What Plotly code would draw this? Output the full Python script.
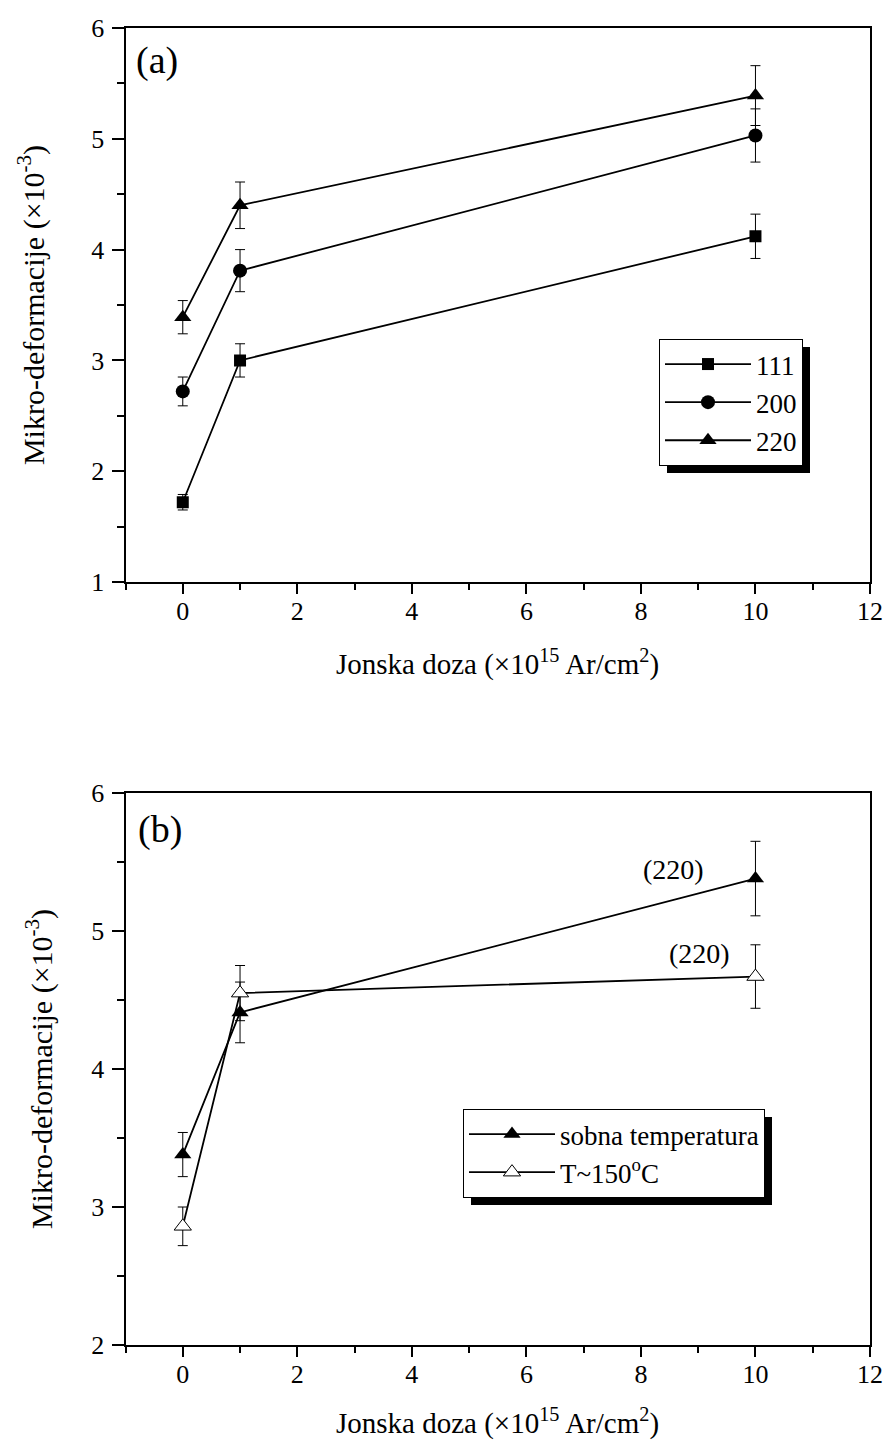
import plotly.graph_objects as go

# Ion dose (x10^15 Ar/cm^2)
dose = [0, 1, 10]

# Panel (a): micro-strain (x10^-3) per reflection, room temperature
strain_111 = [1.72, 3.00, 4.12]
err_111 = [0.07, 0.15, 0.20]
strain_200 = [2.72, 3.81, 5.03]
err_200 = [0.13, 0.19, 0.24]
strain_220 = [3.39, 4.40, 5.39]
err_220 = [0.15, 0.21, 0.27]

# Panel (b): (220) reflection, room temperature vs. T~150 C
strain_rt = [3.38, 4.41, 5.38]
err_rt = [0.16, 0.22, 0.27]
strain_150 = [2.86, 4.55, 4.67]
err_150 = [0.14, 0.20, 0.23]

names_a = ["111", "200", "220"]
names_b = ["sobna temperatura", "T~150<sup>o</sup>C"]
panel_labels = ["(a)", "(b)"]
peak_label = "(220)"

W, H = 887, 1446
FONT = "Liberation Serif"


def px(xp):
    return xp / W


def py(yp):
    return 1 - yp / H


fig = go.Figure()


def err(vals):
    return dict(type="data", array=vals, visible=True, color="black",
                thickness=1, width=5)


line = dict(color="black", width=1.8)

fig.add_trace(go.Scatter(x=dose, y=strain_111, error_y=err(err_111), name=names_a[0],
                         mode="lines+markers", line=line,
                         marker=dict(symbol="square", size=12, color="black"),
                         xaxis="x", yaxis="y", legend="legend"))
fig.add_trace(go.Scatter(x=dose, y=strain_200, error_y=err(err_200), name=names_a[1],
                         mode="lines+markers", line=line,
                         marker=dict(symbol="circle", size=14, color="black"),
                         xaxis="x", yaxis="y", legend="legend"))
fig.add_trace(go.Scatter(x=dose, y=strain_220, error_y=err(err_220), name=names_a[2],
                         mode="lines+markers", line=line,
                         marker=dict(symbol="triangle-up", size=15, color="black"),
                         xaxis="x", yaxis="y", legend="legend"))

fig.add_trace(go.Scatter(x=dose, y=strain_rt, error_y=err(err_rt), name=names_b[0],
                         mode="lines+markers", line=line,
                         marker=dict(symbol="triangle-up", size=15, color="black"),
                         xaxis="x2", yaxis="y2", legend="legend2"))
fig.add_trace(go.Scatter(x=dose, y=strain_150, error_y=err(err_150), name=names_b[1],
                         mode="lines+markers", line=line,
                         marker=dict(symbol="triangle-up", size=15, color="white",
                                     line=dict(color="black", width=1)),
                         xaxis="x2", yaxis="y2", legend="legend2"))

xdom = [px(125.5), px(870)]
xtitle = "Jonska doza (×10<sup>15</sup> Ar/cm<sup>2</sup>)"
ytitle = "Mikro-deformacije (×10<sup>-3</sup>)"
tickfont = dict(family=FONT, size=26, color="black")
ytitlefont = dict(family=FONT, size=30, color="black")
xtitlefont = dict(family=FONT, size=29, color="black")


def xaxis(anchor):
    return dict(domain=xdom, range=[-1, 12], tick0=0, dtick=2, anchor=anchor,
                showline=True, linecolor="black", linewidth=2, mirror=True,
                ticks="outside", ticklen=10, tickwidth=1.5, tickcolor="black",
                minor=dict(dtick=1, ticks="outside", ticklen=6, tickwidth=1.5,
                           tickcolor="black"),
                showgrid=False, zeroline=False, tickfont=tickfont,
                ticklabelstandoff=-5, automargin=False)


def yaxis(anchor, dom, rng, standoff):
    return dict(domain=dom, range=rng, dtick=1, anchor=anchor,
                showline=True, linecolor="black", linewidth=2, mirror=True,
                ticks="outside", ticklen=12, tickwidth=1.5, tickcolor="black",
                minor=dict(dtick=0.5, ticks="outside", ticklen=7, tickwidth=1.5,
                           tickcolor="black"),
                showgrid=False, zeroline=False, tickfont=tickfont,
                ticklabelstandoff=2, automargin=False,
                title=dict(text=ytitle, font=ytitlefont, standoff=standoff))


legend_font = dict(family=FONT, size=27, color="black")
leg_a = (659, 339)
leg_b = (463, 1109)

fig.update_layout(
    width=W, height=H,
    margin=dict(l=0, r=0, t=0, b=0),
    paper_bgcolor="white", plot_bgcolor="white",
    font=dict(family=FONT, color="black"),
    xaxis=xaxis("y"),
    yaxis=yaxis("x", [py(582), py(28)], [1, 6], 38),
    xaxis2=xaxis("y2"),
    yaxis2=yaxis("x2", [py(1345), py(793)], [2, 6], 30),
    legend=dict(x=px(leg_a[0]), y=py(leg_a[1]), xanchor="left", yanchor="top",
                bgcolor="white", bordercolor="black", borderwidth=1,
                font=legend_font, tracegroupgap=0, itemwidth=86),
    legend2=dict(x=px(leg_b[0]), y=py(leg_b[1]), xanchor="left", yanchor="top",
                 bgcolor="white", bordercolor="black", borderwidth=1,
                 font=legend_font, tracegroupgap=0, itemwidth=86),
    showlegend=True,
)

# x-axis titles, placed under each panel
for xr, yr, shift in [("x domain", "y domain", -80), ("x2 domain", "y2 domain", -76)]:
    fig.add_annotation(text=xtitle, xref=xr, yref=yr, x=0.5, y=0, yshift=shift,
                       xanchor="center", yanchor="middle", showarrow=False,
                       font=xtitlefont)

# drop shadows behind the legend boxes
shadows = [((659, 339), (802, 465)), ((463, 1109), (764, 1197))]
for (x0, y0), (x1, y1) in shadows:
    fig.add_shape(type="rect", xref="paper", yref="paper",
                  x0=px(x0 + 8), x1=px(x1 + 8), y0=py(y1 + 8), y1=py(y0 + 8),
                  fillcolor="black", line=dict(width=0), layer="above")

# panel letters
fig.add_annotation(text=panel_labels[0], xref="paper", yref="paper",
                   x=px(157), y=py(61), xanchor="center", yanchor="middle",
                   showarrow=False, font=dict(family=FONT, size=38, color="black"))
fig.add_annotation(text=panel_labels[1], xref="paper", yref="paper",
                   x=px(160), y=py(830), xanchor="center", yanchor="middle",
                   showarrow=False, font=dict(family=FONT, size=38, color="black"))

# reflection labels next to the last points of panel (b)
fig.add_annotation(text=peak_label, xref="x2", yref="y2", x=dose[2], y=strain_rt[2],
                   xshift=-82, yshift=9, showarrow=False,
                   font=dict(family=FONT, size=28, color="black"))
fig.add_annotation(text=peak_label, xref="x2", yref="y2", x=dose[2], y=strain_150[2],
                   xshift=-56, yshift=23, showarrow=False,
                   font=dict(family=FONT, size=28, color="black"))

fig.write_html("out.html")
